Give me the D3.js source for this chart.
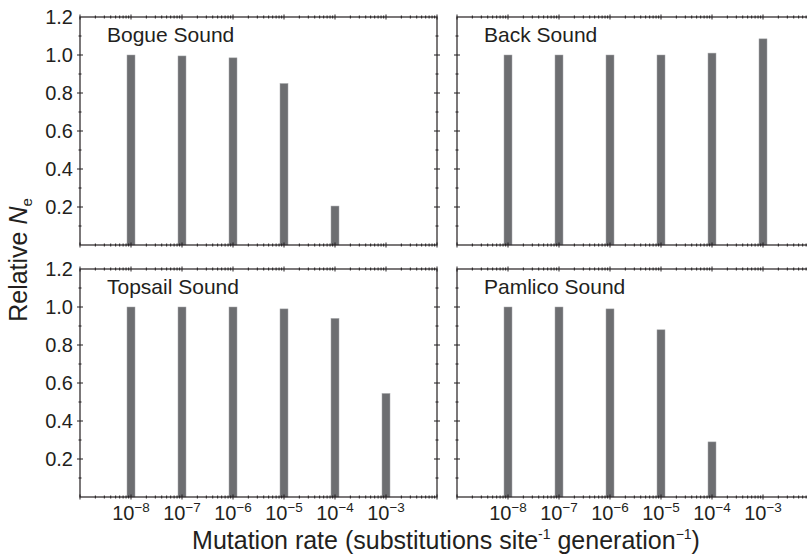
<!DOCTYPE html>
<html><head><meta charset="utf-8">
<script src="https://cdn.jsdelivr.net/npm/d3@7"></script>
<style>body{margin:0;background:#fff}svg{display:block}text{font-family:"Liberation Sans",Arial,Helvetica,sans-serif;fill:#231f20}</style>
</head><body><svg id="c" width="807" height="554"></svg>
<script>
const rates = [1e-8, 1e-7, 1e-6, 1e-5, 1e-4, 1e-3];
const exponents = ["−8","−7","−6","−5","−4","−3"];
const bogue   = [1.0, 0.995, 0.985, 0.85, 0.205, 0];
const back    = [1.0, 1.0, 1.0, 1.0, 1.01, 1.085];
const topsail = [1.0, 1.0, 1.0, 0.99, 0.94, 0.545];
const pamlico = [1.0, 1.0, 0.99, 0.88, 0.29, 0];
const panelNames = ["Bogue Sound","Back Sound","Topsail Sound","Pamlico Sound"];
const yTicks = [0.2,0.4,0.6,0.8,1.0,1.2];

const svg = d3.select("#c");
const W = 357, H = 228;
const lefts = [80, 457], tops = [17, 269];
const panels = [
  {name: panelNames[0], vals: bogue, c:0, r:0},
  {name: panelNames[1], vals: back, c:1, r:0},
  {name: panelNames[2], vals: topsail, c:0, r:1},
  {name: panelNames[3], vals: pamlico, c:1, r:1}
];
const x = d3.scaleLog().domain([1e-9, 1e-2]).range([0, W]);
const y = d3.scaleLinear().domain([0, 1.2]).range([H, 0]);
const ink = "#231f20";
const minor = [];
for (let e=-9; e<-2; e++) for (let m=1; m<10; m++) minor.push(m*Math.pow(10,e));
minor.push(1e-2);
const yMinor = d3.range(1, 12).map(i=>i/10);
const isMajor = d => Math.abs(Math.log10(d)-Math.round(Math.log10(d)))<1e-9;

panels.forEach(p=>{
  const g = svg.append("g").attr("transform",`translate(${lefts[p.c]},${tops[p.r]})`);
  const bw = 8;
  g.selectAll("rect.bar").data(p.vals.map((v,i)=>({v, r: rates[i]}))).join("rect")
    .attr("x", d=>x(d.r)-bw/2).attr("width", bw)
    .attr("y", d=>y(d.v)).attr("height", d=>Math.max(0, H-y(d.v)))
    .attr("fill", "#6d6e71").attr("stroke", "#a7a9ac").attr("stroke-width", 0.5);
  g.append("rect").attr("x",0).attr("y",0).attr("width",W).attr("height",H)
    .attr("fill","none").attr("stroke",ink).attr("stroke-width",1.2);
  [0, H].forEach(yy=>{
    g.selectAll(null).data(minor).join("line")
      .attr("x1", d=>x(d)).attr("x2", d=>x(d))
      .attr("y1", d=>yy-(isMajor(d)?2.5:1.5))
      .attr("y2", d=>yy+(isMajor(d)?2.5:1.5))
      .attr("stroke", ink).attr("stroke-width", 1);
  });
  [0, W].forEach(xx=>{
    g.selectAll(null).data(yMinor).join("line")
      .attr("y1", d=>y(d)).attr("y2", d=>y(d))
      .attr("x1", d=>{const major = Math.round(d*10)%2===0; return xx-(major?3:1.5);})
      .attr("x2", d=>{const major = Math.round(d*10)%2===0; return xx+(major?3:1.5);})
      .attr("stroke", ink).attr("stroke-width", 1);
  });
  if (p.c===0) {
    const ya = d3.axisLeft(y).tickValues(yTicks).tickFormat(d3.format(".1f")).tickSize(0).tickPadding(7);
    const ag = g.append("g").call(ya);
    ag.select(".domain").remove();
    ag.selectAll("text").attr("font-size", 20).attr("fill", ink)
      .style("font-family","'Liberation Sans',Arial,sans-serif");
  }
  if (p.r===1) {
    rates.forEach((r,i)=>{
      const t = g.append("text").attr("x", x(r)).attr("y", H+23)
        .attr("text-anchor","middle").attr("font-size", 20);
      t.append("tspan").text("10");
      t.append("tspan").text(exponents[i]).attr("font-size", 13.5).attr("dy", -8);
    });
  }
  g.append("text").attr("x", 27).attr("y", 25).attr("font-size", 21).text(p.name);
});

const yt = svg.append("text").attr("transform","translate(27,260) rotate(-90)")
  .attr("text-anchor","middle").attr("font-size", 25);
yt.append("tspan").text("Relative ");
yt.append("tspan").text("N").attr("font-style","italic");
yt.append("tspan").text("e").attr("font-size", 15).attr("dy", 5);

const xt = svg.append("text").attr("x", 446).attr("y", 549).attr("text-anchor","middle").attr("font-size", 25);
xt.append("tspan").text("Mutation rate (substitutions site");
xt.append("tspan").text("-1").attr("font-size", 14).attr("dy", -10);
xt.append("tspan").text(" generation").attr("font-size", 25).attr("dy", 10);
xt.append("tspan").text("−1").attr("font-size", 14).attr("dy", -10);
xt.append("tspan").text(")").attr("font-size", 25).attr("dy", 10);
</script></body></html>
